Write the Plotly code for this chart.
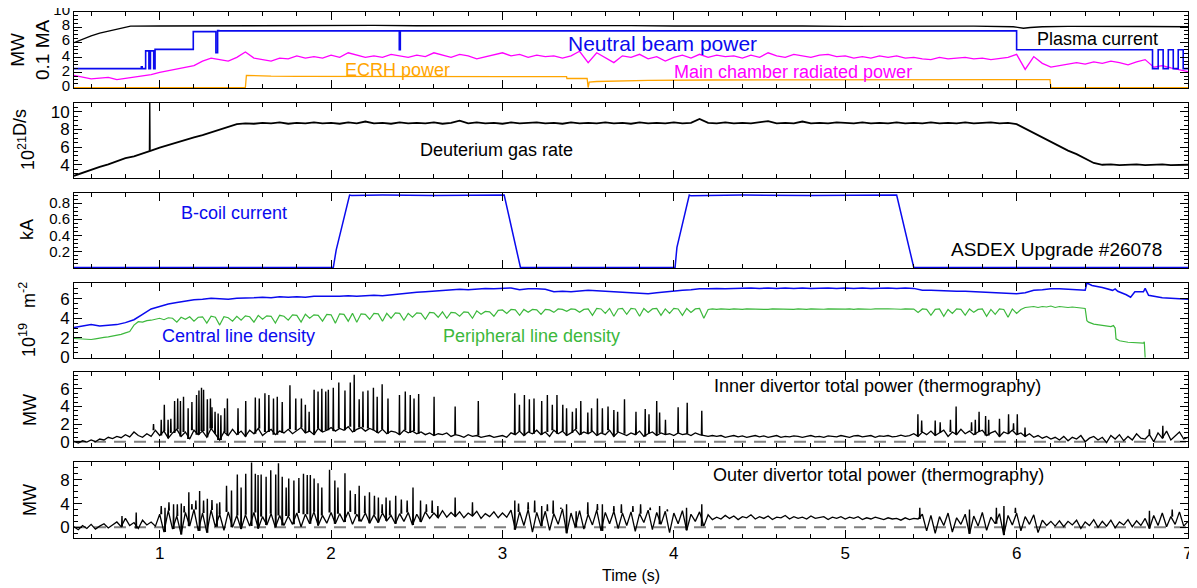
import numpy as np
import plotly.graph_objects as go

# ======================= DATA =======================
# ---- Panel 1: plasma current (0.1 MA), NBI power, ECRH power, radiated power (MW)
ip_t = [0.50, 0.55, 0.60, 0.65, 0.70, 0.75, 0.80, 0.83,
        1.00, 1.25, 1.50, 1.75, 2.00, 2.25, 2.50, 2.75, 3.00, 3.25,
        3.50, 3.75, 4.00, 4.25, 4.50, 4.75, 5.00, 5.25, 5.50, 5.75,
        5.98, 6.04, 6.08, 6.15, 6.30, 6.50, 6.75, 7.00]
ip_v = [5.95, 6.45, 6.85, 7.2, 7.45, 7.7, 7.95, 8.12,
        8.15, 8.18, 8.2, 8.22, 8.2, 8.22, 8.18, 8.2, 8.22, 8.2,
        8.18, 8.2, 8.15, 8.17, 8.12, 8.15, 8.1, 8.12, 8.1, 8.12,
        8.05, 7.85, 7.95, 8.05, 8.1, 8.05, 8.08, 8.05]

nbi_t = [0.50, 0.893, 0.898, 0.918, 0.937, 0.946, 0.965, 0.973, 1.196, 1.328,
         1.338, 1.345, 2.398, 2.404, 6.000, 6.793, 6.826, 6.855, 6.885, 6.914,
         6.943, 6.972, 7.0]
nbi_v = [2.5, 2.75, 2.5, 4.85, 2.5, 4.85, 2.5, 5.05, 7.4, 4.6,
         7.55, 7.5, 5.0, 7.5, 5.0, 2.5, 5.0, 2.5, 5.0, 2.5,
         5.0, 2.5, 2.5]

ecrh_t = [0.50, 1.500, 1.506, 1.55, 1.65, 1.80, 2.50, 3.374, 3.376, 3.494, 3.500,
          3.506, 3.55, 3.65, 3.85, 4.20, 4.70, 5.50, 6.195, 6.200, 7.00]
ecrh_v = [0.0, 0.0, 1.62, 1.56, 1.5, 1.48, 1.47, 1.45, 1.2, 1.2, 0.0,
          0.72, 0.8, 0.88, 0.95, 1.0, 1.03, 1.05, 1.05, 0.0, 0.0]

prad_t0, prad_dt = 0.50, 0.05
prad_v = [1.6, 1.35, 1.15, 1.25, 1.35, 1.05, 1.2, 1.3, 1.5, 1.7,
          2.0, 2.25, 2.4, 2.65, 2.9, 3.5, 3.9, 3.7, 3.5, 4.0,
          4.7, 3.9, 3.7, 3.5, 3.9, 3.8, 4.2, 3.9, 4.1, 3.9,
          4.3, 4.0, 4.6, 4.3, 4.0, 4.2, 4.0, 4.4, 4.2, 4.0,
          4.3, 4.1, 4.6, 4.3, 4.0, 4.4, 4.2, 3.8, 4.1, 4.3,
          4.6, 4.2, 4.4, 4.0, 4.3, 4.1, 4.2, 3.9, 4.2, 4.8,
          3.3, 4.6, 3.9, 3.3, 4.2, 4.0, 4.4, 3.8, 4.1, 3.5,
          4.0, 4.3, 3.9, 4.4, 4.0, 4.3, 4.1, 4.2, 3.9, 4.3,
          4.0, 4.6, 4.2, 4.0, 4.4, 4.2, 4.0, 4.3, 4.4, 4.1,
          4.2, 3.9, 4.1, 3.9, 4.2, 4.0, 4.2, 3.9, 4.0, 3.8,
          3.7, 4.0, 3.8, 3.9, 4.0, 3.8, 3.9, 3.7, 3.9, 4.0,
          4.4, 2.4, 4.1, 3.2, 2.7, 2.9, 3.0, 3.3, 3.1, 3.4,
          3.2, 3.5, 3.3, 3.0, 3.4, 3.7, 2.7, 2.9, 2.6, 2.3,
          2.1]

# ---- Panel 2: deuterium gas rate (1e21 D/s)
gas_t0, gas_dt = 0.50, 0.05
gas_v = [2.75, 3.1, 3.4, 3.75, 4.05, 4.4, 4.75, 4.95, 5.25, 5.6,
         5.95, 6.25, 6.5, 6.8, 7.1, 7.35, 7.65, 7.95, 8.25, 8.6,
         8.7, 8.65, 8.75, 8.7, 8.8, 8.65, 8.75, 8.7, 8.8, 8.7,
         8.75, 8.65, 8.8, 8.7, 8.9, 8.7, 8.75, 8.65, 8.8, 8.7,
         8.75, 8.7, 8.8, 8.65, 8.75, 9.0, 8.7, 8.8, 8.7, 8.75,
         8.65, 8.8, 8.7, 8.75, 8.8, 8.7, 8.75, 8.65, 8.8, 8.7,
         8.75, 8.7, 8.8, 8.7, 8.75, 8.65, 8.8, 8.7, 8.75, 8.7,
         8.8, 8.7, 8.75, 9.2, 8.75, 8.7, 8.8, 8.7, 8.75, 8.7,
         8.8, 8.95, 8.7, 8.75, 8.7, 8.9, 8.7, 8.75, 8.7, 8.8,
         8.75, 8.7, 8.8, 8.7, 8.75, 8.7, 8.8, 8.7, 8.75, 8.7,
         8.8, 8.7, 8.75, 8.7, 8.8, 8.7, 8.75, 8.8, 8.7, 8.75,
         8.6, 8.1, 7.6, 7.1, 6.6, 6.1, 5.6, 5.2, 4.7, 4.2,
         4.0, 4.05, 3.95, 4.0, 4.05, 3.95, 4.0, 4.05, 3.95, 4.0,
         4.0]
gas_spike_t = [0.942]
gas_spike_h = [12.0]

# ---- Panel 3: B-coil current (kA)
bcoil_t = [0.50, 2.013, 2.030, 2.045, 2.070, 2.108, 2.120, 2.30, 2.60, 2.90, 3.010, 3.105,
           4.007, 4.018, 4.040, 4.090, 4.100, 4.40, 4.80, 5.10, 5.300, 5.400, 7.00]
bcoil_v = [0.0, 0.0, 0.22, 0.35, 0.55, 0.90, 0.895, 0.90, 0.895, 0.90, 0.90, 0.0,
           0.0, 0.25, 0.45, 0.90, 0.89, 0.90, 0.895, 0.90, 0.90, 0.0, 0.0]

# ---- Panel 4: line densities (1e19 m^-2)
core_t0, core_dt = 0.50, 0.05
core_v = [3.05, 3.2, 3.35, 3.2, 3.25, 3.35, 3.55, 3.85, 4.4, 4.95,
          5.2, 5.45, 5.6, 5.75, 5.9, 5.95, 6.05, 6.0, 5.95, 6.05,
          6.05, 6.1, 6.15, 6.1, 6.2, 6.15, 6.2, 6.15, 6.25, 6.25,
          6.2, 6.25, 6.3, 6.25, 6.3, 6.35, 6.3, 6.4, 6.45, 6.55,
          6.65, 6.7, 6.75, 6.85, 6.9, 6.95, 6.9, 7.0, 7.05, 7.0,
          7.05, 7.1, 6.9, 7.0, 7.0, 6.95, 6.7, 6.75, 6.7, 6.8,
          6.85, 6.8, 6.75, 6.7, 6.65, 6.6, 6.55, 6.5, 6.6, 6.7,
          6.8, 6.85, 6.9, 7.0, 7.0, 7.05, 7.0, 7.05, 7.05, 7.1,
          7.05, 7.1, 7.05, 7.1, 7.05, 7.1, 7.05, 7.1, 7.1, 7.05,
          7.1, 7.05, 7.1, 7.05, 7.1, 7.1, 7.05, 7.1, 7.05, 6.85,
          6.85, 6.8, 6.8, 6.75, 6.75, 6.7, 6.7, 6.65, 6.6, 6.55,
          6.5, 6.6, 6.85, 6.9, 7.0, 7.0, 6.95, 6.9]
core_tail_t = [6.40, 6.41, 6.44, 6.50, 6.56, 6.575, 6.59, 6.64, 6.665, 6.69,
               6.74, 6.75, 6.77, 6.85, 6.95, 7.0]
core_tail_v = [6.85, 7.6, 7.35, 7.15, 6.85, 7.0, 6.75, 6.4, 6.15, 6.7,
               6.7, 7.05, 6.35, 6.1, 6.0, 5.95]

edge_t0, edge_dt = 0.50, 0.025
edge_v = [1.93, 1.9, 1.88, 1.85, 1.83, 1.9, 2.0, 2.05, 2.1, 2.18,
          2.25, 2.35, 2.5, 2.65, 3.3, 3.65, 3.6, 3.75, 3.8, 3.9,
          4.0, 3.85, 4.05, 4.0, 3.6, 4.1, 3.9, 4.15, 3.7, 4.1,
          4.15, 3.5, 4.2, 4.1, 3.3, 4.15, 4.05, 3.7, 4.2, 3.8,
          4.25, 4.15, 3.6, 4.3, 3.9, 4.25, 4.2, 3.5, 4.3, 4.2,
          3.8, 4.35, 4.3, 3.6, 4.4, 4.0, 4.35, 4.3, 3.7, 4.4,
          4.35, 3.5, 4.45, 4.4, 3.7, 4.5, 3.6, 4.45, 4.4, 3.9,
          4.5, 4.45, 3.7, 4.5, 4.0, 4.55, 4.5, 3.8, 4.5, 4.1,
          4.55, 4.5, 3.9, 4.6, 4.55, 4.1, 4.65, 4.0, 4.6, 4.55,
          4.2, 4.65, 4.6, 4.0, 4.75, 4.4, 4.7, 4.65, 4.2, 4.8,
          4.85, 4.5, 4.9, 4.85, 4.3, 4.9, 4.6, 4.9, 4.85, 4.4,
          4.9, 4.85, 4.6, 4.95, 4.9, 4.7, 4.95, 4.9, 4.6, 4.9,
          4.95, 4.3, 5.0, 4.95, 4.5, 5.0, 4.2, 4.95, 5.0, 4.4,
          5.0, 4.95, 4.2, 5.0, 4.6, 4.95, 5.0, 4.3, 4.95, 4.5,
          5.0, 4.95, 4.3, 5.0, 4.6, 4.95, 5.0, 4.0, 4.9, 4.95,
          4.9, 4.95, 4.92, 4.9, 4.95, 4.92, 4.9, 4.95, 4.93, 4.9,
          4.95, 4.92, 4.9, 4.95, 4.93, 4.9, 4.95, 4.92, 4.9, 4.95,
          4.92, 4.9, 4.95, 4.93, 4.97, 4.92, 4.95, 4.93, 4.9, 4.95,
          4.93, 4.95, 4.9, 4.95, 4.93, 4.97, 4.92, 4.95, 4.93, 4.95,
          4.97, 4.93, 4.95, 4.92, 4.95, 4.97, 4.93, 4.6, 4.95, 4.9,
          4.3, 4.9, 4.95, 4.2, 4.9, 4.5, 4.95, 4.9, 4.3, 4.95,
          4.6, 4.9, 4.95, 4.2, 4.9, 4.4, 4.95, 4.9, 4.1, 4.95,
          4.5, 4.9, 5.1, 5.15, 5.2, 5.1, 5.2, 5.15, 5.25, 5.1,
          5.2, 5.15, 5.1, 5.15, 5.1, 5.05, 5.0]
edge_tail_t = [6.41, 6.42, 6.45, 6.50, 6.52, 6.55, 6.565, 6.575, 6.58, 6.60,
               6.65, 6.70, 6.74, 6.745, 6.75]
edge_tail_v = [3.75, 3.6, 3.4, 3.3, 3.2, 3.15, 3.25, 3.0, 1.9, 1.7,
               1.55, 1.5, 1.45, 1.6, 0.0]

# ---- Panel 5: inner divertor power (MW): baseline + ELM peaks
inner_t0, inner_dt = 0.50, 0.025
inner_v = [0.05, -0.15, 0.1, -0.05, 0.2, 0.0, 0.3, 0.2, 0.5, 0.35,
           0.6, 0.45, 0.8, 0.55, 1.1, 0.7, 0.5, 0.9, 0.6, 1.3,
           0.7, 1.2, 0.4, 1.0, 1.4, 0.6, 1.1, 0.3, 1.3, 0.8,
           1.2, 0.5, 1.5, 0.9, 0.2, 1.1, 0.7, 1.4, 0.8, 1.2,
           0.6, 1.3, 0.9, 1.5, 0.7, 1.1, 1.4, 0.8, 1.2, 1.0,
           1.4, 0.9, 1.3, 1.6, 1.0, 1.2, 0.8, 1.5, 1.1, 1.3,
           1.6, 1.2, 1.5, 1.3, 1.7, 1.1, 1.4, 1.6, 1.2, 1.5,
           1.3, 1.0, 1.4, 0.9, 1.2, 1.1, 0.8, 1.3, 1.0, 1.2,
           0.9, 1.1, 0.8, 1.0, 0.7, 0.9, 0.8, 1.0, 0.6, 0.8,
           0.7, 0.5, 0.8, 0.6, 0.7, 0.5, 0.6, 0.7, 0.5, 0.6,
           0.7, 0.5, 1.0, 0.8, 1.2, 0.7, 1.1, 0.9, 1.3, 0.8,
           1.1, 0.6, 1.3, 0.9, 1.2, 0.7, 1.0, 1.4, 0.8, 1.1,
           0.9, 1.2, 0.7, 1.0, 0.8, 1.3, 0.6, 1.1, 0.9, 0.7,
           1.0, 0.8, 1.2, 0.6, 0.9, 1.1, 0.7, 1.0, 0.8, 0.9,
           0.7, 1.0, 0.8, 0.9, 0.7, 1.0, 0.8, 0.7, 0.6, 0.7,
           0.6, 0.7, 0.5, 0.6, 0.7, 0.55, 0.65, 0.5, 0.6, 0.7,
           0.55, 0.65, 0.5, 0.6, 0.7, 0.5, 0.6, 0.55, 0.65, 0.6,
           0.5, 0.6, 0.7, 0.55, 0.6, 0.5, 0.65, 0.6, 0.55, 0.7,
           0.6, 0.5, 0.65, 0.7, 0.55, 0.6, 0.7, 0.5, 0.65, 0.6,
           0.7, 0.55, 0.6, 0.75, 0.6, 0.7, 0.9, 0.6, 1.1, 0.8,
           1.2, 0.7, 1.0, 1.3, 0.6, 1.1, 0.8, 1.4, 0.9, 1.2,
           0.8, 1.1, 1.3, 0.7, 1.0, 1.2, 0.6, 1.1, 0.9, 1.3,
           0.8, 1.0, 0.6, 0.9, 0.5, 0.7, 0.4, 0.6, 0.3, 0.5,
           0.2, 0.6, 0.1, 0.5, 0.3, 0.7, 0.0, 0.4, 0.6, 0.2,
           0.5, -0.1, 0.7, 0.3, 0.8, 0.1, 0.6, 0.2, 0.9, 0.4,
           0.3, 0.8, 0.0, 1.0, 0.4, 1.2, 0.2, 0.7, 1.1, 0.3,
           0.5]
inner_elm_t = [0.964, 1.009, 1.027, 1.049, 1.065, 1.087, 1.105, 1.121, 1.139, 1.166,
               1.188, 1.215, 1.229, 1.244, 1.256, 1.278, 1.296, 1.305, 1.323, 1.341,
               1.357, 1.379, 1.395, 1.457, 1.502, 1.558, 1.581, 1.614, 1.637, 1.664,
               1.686, 1.715, 1.760, 1.794, 1.827, 1.850, 1.872, 1.901, 1.924, 1.946,
               1.969, 1.984, 2.013, 2.045, 2.081, 2.112, 2.135, 2.164, 2.186, 2.215,
               2.247, 2.269, 2.298, 2.332, 2.399, 2.433, 2.462, 2.484, 2.511, 2.601,
               2.724, 2.859, 3.072, 3.099, 3.128, 3.157, 3.184, 3.229, 3.262, 3.291,
               3.318, 3.352, 3.374, 3.408, 3.430, 3.457, 3.498, 3.520, 3.554, 3.583,
               3.616, 3.650, 3.672, 3.712, 3.779, 3.833, 3.855, 3.900, 3.917, 3.951,
               4.025, 4.078, 4.163, 5.424, 5.446, 5.525, 5.554, 5.614, 5.647, 5.737,
               5.759, 5.781, 5.819, 5.837, 5.900, 5.953, 5.982, 6.004, 6.049, 6.775,
               6.853]
inner_elm_h = [2.0, 2.5, 4.2, 2.5, 2.6, 4.6, 4.9, 4.6, 5.1, 3.8,
               4.5, 5.3, 5.8, 6.1, 5.9, 4.8, 4.9, 3.9, 3.4, 3.2,
               3.0, 3.8, 4.9, 3.8, 4.6, 5.0, 4.9, 5.5, 5.3, 4.9,
               5.1, 4.5, 6.4, 4.9, 4.9, 4.2, 3.4, 5.9, 5.7, 6.0,
               5.7, 5.9, 6.1, 6.7, 5.8, 6.7, 7.6, 4.8, 5.7, 5.8,
               6.1, 5.1, 6.5, 4.9, 5.3, 5.7, 5.3, 4.9, 5.4, 5.1,
               4.0, 4.6, 5.5, 4.2, 5.3, 4.8, 4.9, 4.6, 5.3, 4.2,
               5.3, 4.2, 3.8, 3.4, 3.8, 4.6, 3.3, 3.8, 4.9, 3.8,
               4.0, 3.6, 3.4, 4.8, 3.4, 3.7, 3.1, 4.6, 3.3, 2.5,
               3.9, 4.4, 3.5, 3.1, 2.4, 2.4, 2.2, 2.5, 4.0, 2.2,
               2.5, 3.4, 2.9, 2.5, 2.6, 3.1, 2.1, 3.1, 1.6, 1.4,
               1.8]

# ---- Panel 6: outer divertor power (MW): baseline + ELM peaks
outer_t0, outer_dt = 0.50, 0.025
outer_v = [0.1, -0.4, 0.3, -0.2, 0.5, -0.3, 0.2, 0.6, -0.1, 0.4,
           0.9, 0.1, 1.5, 0.3, 0.8, -0.2, 1.2, 0.4, 0.9, 0.2,
           2.2, -0.8, 2.8, -0.3, 1.9, -1.2, 2.5, 0.2, 3.0, -0.6,
           2.4, -0.9, 2.9, 0.1, 2.2, -0.5, 2.6, 0.0, 2.0, -0.3,
           2.1, 0.2, 2.5, -0.2, 1.8, 0.4, 2.3, 0.0, 2.0, 0.3,
           1.9, 0.5, 2.4, 0.1, 2.2, 0.6, 2.6, 0.3, 2.0, 0.7,
           2.5, 0.6, 2.3, 0.9, 2.6, 0.5, 2.2, 1.0, 2.4, 0.7,
           2.1, 0.8, 2.4, 1.1, 2.0, 0.6, 2.3, 1.0, 2.5, 0.4,
           2.2, 0.9, 2.6, 1.5, 2.4, 1.6, 2.8, 1.7, 2.5, 1.8,
           2.6, 1.6, 2.4, 1.9, 2.7, 1.5, 2.3, 1.8, 2.6, 1.6,
           2.4, 1.7, 2.9, -0.4, 2.6, 0.3, 3.0, -0.8, 2.5, 0.2,
           2.7, -0.5, 2.3, 0.5, 3.1, -1.0, 2.4, 0.0, 2.8, -0.3,
           2.2, 0.4, 2.9, -0.6, 2.5, 0.6, 2.7, -0.2, 2.4, 0.3,
           2.6, -0.7, 2.3, 0.8, 2.9, -0.4, 2.5, 0.5, 2.7, -0.9,
           2.4, 0.6, 2.8, -0.5, 2.2, 1.0, 2.6, 0.2, 2.1, 1.3,
           1.7, 1.4, 2.0, 1.5, 1.9, 1.3, 1.8, 1.6, 2.1, 1.4,
           1.8, 1.5, 1.9, 1.3, 1.7, 1.6, 2.0, 1.4, 1.8, 1.5,
           1.7, 1.4, 1.9, 1.5, 1.6, 1.8, 1.3, 1.7, 1.5, 1.8,
           1.4, 1.7, 1.5, 1.8, 1.3, 1.6, 1.4, 1.7, 1.5, 1.3,
           1.6, 1.4, 1.5, 1.2, 1.6, 1.3, 1.5, 1.4, 2.2, -0.6,
           2.0, -1.0, 1.8, 0.3, 2.4, -0.8, 1.6, 0.5, 2.2, -1.1,
           1.9, 0.2, 2.5, -0.5, 1.7, 0.6, 2.3, -1.3, 2.0, 0.4,
           2.4, -0.6, 1.8, 0.5, 2.1, -0.9, 1.2, 0.3, 1.0, 0.2,
           1.1, 0.1, 1.0, 0.4, 1.2, -0.2, 0.9, 0.3, 1.3, 0.0,
           1.0, 0.2, 1.2, -0.1, 0.9, 0.4, 1.3, 0.1, 1.1, 0.3,
           1.5, -0.2, 2.0, 0.3, 2.4, 0.1, 1.8, 0.5, 2.6, 0.2,
           1.0]
outer_elm_t = [0.780, 0.863, 1.009, 1.031, 1.054, 1.081, 1.103, 1.126, 1.143, 1.170,
               1.188, 1.211, 1.233, 1.256, 1.278, 1.305, 1.334, 1.350, 1.390, 1.419,
               1.453, 1.475, 1.502, 1.536, 1.558, 1.574, 1.592, 1.621, 1.648, 1.677,
               1.693, 1.715, 1.738, 1.753, 1.783, 1.812, 1.839, 1.861, 1.879, 1.901,
               1.924, 1.946, 1.991, 2.022, 2.040, 2.081, 2.112, 2.141, 2.164, 2.197,
               2.224, 2.253, 2.276, 2.298, 2.321, 2.343, 2.377, 2.410, 2.444, 2.478,
               2.522, 2.556, 2.590, 2.623, 2.724, 2.825, 3.072, 3.094, 3.150, 3.188,
               3.229, 3.262, 3.296, 3.341, 3.374, 3.430, 3.498, 3.554, 3.583, 3.650,
               3.694, 3.761, 3.806, 3.862, 3.917, 3.962, 4.074, 4.163, 5.435, 5.725,
               5.882, 5.926, 5.993, 6.775, 6.908]
outer_elm_h = [1.9, 2.5, 3.6, 3.3, 4.2, 3.9, 3.9, 4.0, 3.6, 5.9,
               3.9, 4.5, 6.1, 4.5, 4.8, 4.6, 4.0, 4.2, 7.0, 6.2,
               8.9, 6.7, 9.0, 10.9, 9.0, 8.8, 8.9, 8.5, 9.6, 8.9,
               10.8, 8.5, 6.7, 8.2, 7.9, 8.3, 9.0, 8.8, 8.8, 8.2,
               7.4, 6.7, 9.7, 7.9, 6.7, 9.1, 6.2, 5.6, 7.0, 5.3,
               5.9, 5.3, 5.0, 3.9, 5.0, 4.5, 5.3, 4.7, 4.5, 6.7,
               4.5, 3.9, 4.5, 3.6, 5.0, 4.2, 4.5, 4.0, 4.2, 4.5,
               3.6, 3.9, 4.5, 3.3, 3.9, 2.7, 4.2, 3.9, 3.9, 3.6,
               3.9, 3.6, 3.9, 3.3, 3.6, 3.0, 3.3, 3.9, 3.3, 3.0,
               3.3, 3.6, 3.3, 2.8, 3.0]

# ======================= STYLE / LAYOUT =======================
FONT = "Liberation Sans, Arial, Helvetica, sans-serif"
BLUE = "#0a0aee"
MAGENTA = "#ff00ff"
ORANGE = "#ffa500"
GREEN = "#3cb83c"
OFF = 8                      # default page (body) margin of the html page
W, H = 1197 - OFF, 588 - OFF
# plot-area edges in page pixels
P_LEFT, P_RIGHT, P_TOP, P_BOT = 74, 1188, 12, 538
ML, MR, MT, MB = P_LEFT - OFF, W - (P_RIGHT - OFF), P_TOP - OFF, H - (P_BOT - OFF)
PW, PH = W - ML - MR, H - MT - MB
PANEL_PX = [(12, 88), (103, 178), (193, 268), (283, 358), (372, 447), (462, 538)]


def grid(t0, dt, vals):
    return list(np.round(t0 + dt * np.arange(len(vals)), 4))


def spikes(sp_t, sp_h, t0, dt, base):
    xs, ys = [], []
    for t, h in zip(sp_t, sp_h):
        i = int(round((t - t0) / dt))
        i = min(max(i, 0), len(base) - 1)
        b = base[i]
        xs += [t - 0.002, t, t + 0.002, None]
        ys += [b, h, b, None]
    return xs, ys


fig = go.Figure()


def add(i, x, y, color, width=1.2, shape="linear"):
    fig.add_trace(go.Scatter(x=x, y=y, mode="lines", xaxis=f"x{i}", yaxis=f"y{i}",
                             line=dict(color=color, width=width, shape=shape),
                             showlegend=False, hoverinfo="skip"))


# Panel 1
add(1, ecrh_t, ecrh_v, ORANGE, 1.3)
add(1, grid(prad_t0, prad_dt, prad_v), prad_v, MAGENTA, 1.3)
add(1, nbi_t, nbi_v, BLUE, 1.6, "hv")
add(1, ip_t, ip_v, "black", 1.3)
# Panel 2
add(2, grid(gas_t0, gas_dt, gas_v), gas_v, "black", 1.8)
gx, gy = spikes(gas_spike_t, gas_spike_h, gas_t0, gas_dt, gas_v)
add(2, gx, gy, "black", 1.3)
# Panel 3
add(3, bcoil_t, bcoil_v, BLUE, 1.5)
# Panel 4
add(4, grid(core_t0, core_dt, core_v) + core_tail_t, core_v + core_tail_v, BLUE, 1.5)
add(4, grid(edge_t0, edge_dt, edge_v) + edge_tail_t, edge_v + edge_tail_v, GREEN, 1.2)
# Panel 5
add(5, grid(inner_t0, inner_dt, inner_v), inner_v, "black", 1.3)
sx, sy = spikes(inner_elm_t, inner_elm_h, inner_t0, inner_dt, inner_v)
add(5, sx, sy, "black", 1.4)
# Panel 6
add(6, grid(outer_t0, outer_dt, outer_v), outer_v, "black", 1.3)
sx, sy = spikes(outer_elm_t, outer_elm_h, outer_t0, outer_dt, outer_v)
add(6, sx, sy, "black", 1.4)

yspec = {
    1: dict(range=[-0.06, 10.001], dtick=2, tick0=0, minor=0.5, fs=15, shift=-2),
    2: dict(range=[2.5, 11.0], dtick=2, tick0=0, minor=0.5, fs=17, shift=0),
    3: dict(range=[-0.006, 0.925], tickvals=[0.2, 0.4, 0.6, 0.8], minor=0.05, fs=15, shift=0),
    4: dict(range=[-0.06, 7.6], dtick=2, tick0=0, minor=0.5, fs=17, shift=0),
    5: dict(range=[-0.6, 7.9], dtick=2, tick0=0, minor=0.5, fs=17, shift=0),
    6: dict(range=[-1.8, 11.0], dtick=4, tick0=0, minor=1, fs=17, shift=0),
}

common = dict(showline=True, linecolor="black", linewidth=1, mirror="allticks",
              ticks="inside", ticklen=8, tickwidth=1, tickcolor="black",
              showgrid=False, zeroline=False, automargin=False,
              ticklabeloverflow="allow")

layout = dict(width=W, height=H, margin=dict(l=ML, r=MR, t=MT, b=MB, autoexpand=False),
              paper_bgcolor="white", plot_bgcolor="white",
              font=dict(family=FONT, size=17, color="black"), showlegend=False)

for i in range(1, 7):
    top, bot = PANEL_PX[i - 1]
    dom = [(P_BOT - bot) / PH, (P_BOT - top) / PH]
    xa = dict(common, range=[0.5, 7.0], dtick=1, tick0=0, domain=[0, 1], anchor=f"y{i}",
              showticklabels=(i == 6), tickfont=dict(family=FONT, size=17, color="black"),
              minor=dict(dtick=0.2, tick0=0, ticklen=4, ticks="inside", tickcolor="black"))
    s = yspec[i]
    ya = dict(common, range=s["range"], domain=dom, anchor=f"x{i}",
              tickfont=dict(family=FONT, size=s["fs"], color="black"),
              ticklabelshift=s["shift"],
              minor=dict(dtick=s["minor"], tick0=0, ticklen=4, ticks="inside", tickcolor="black"))
    if "tickvals" in s:
        ya["tickmode"] = "array"
        ya["tickvals"] = s["tickvals"]
    else:
        ya["dtick"] = s["dtick"]
        ya["tick0"] = s["tick0"]
    layout["xaxis" if i == 1 else f"xaxis{i}"] = xa
    layout["yaxis" if i == 1 else f"yaxis{i}"] = ya

fig.update_layout(**layout)


def ann(text, px, py, color="black", size=18, angle=0):
    # px, py are page-pixel positions (centre of the text)
    return dict(text=text, x=(px - P_LEFT) / PW, y=(P_BOT - py) / PH, xref="paper", yref="paper",
                showarrow=False, textangle=angle, xanchor="center", yanchor="middle",
                font=dict(family=FONT, size=size, color=color))


annotations = [
    ann("Neutral beam power", 662, 43, BLUE, 21),
    ann("Plasma current", 1097, 39, "black", 18),
    ann("ECRH power", 397, 70, ORANGE, 18),
    ann("Main chamber radiated power", 793, 72, MAGENTA, 18),
    ann("Deuterium gas rate", 496, 150, "black", 18),
    ann("B-coil current", 234, 213, BLUE, 18),
    ann("ASDEX Upgrade #26078", 1056, 249, "black", 19),
    ann("Central line density", 238, 336, BLUE, 18),
    ann("Peripheral line density", 531, 336, GREEN, 18),
    ann("Inner divertor total power (thermography)", 877, 386, "black", 18),
    ann("Outer divertor total power (thermography)", 878, 475, "black", 18),
    ann("Time (s)", 631, 575, "black", 16),
    # y-axis titles
    ann("MW<br>0.1 MA", 30, 50, "black", 19, -90),
    ann("10<sup>21</sup><sup><span style='font-size:18px'>D/s</span></sup>", 24, 140, "black", 18, -90),
    ann("kA", 27, 230, "black", 18, -90),
    ann("10<sup>19</sup>   m<sup>-2</sup>", 27, 320, "black", 18, -90),
    ann("MW", 30, 410, "black", 18, -90),
    ann("MW", 30, 500, "black", 18, -90),
]

shapes = []
for i in (5, 6):
    shapes.append(dict(type="line", xref=f"x{i} domain", yref=f"y{i}", x0=0, x1=1, y0=0, y1=0,
                       line=dict(color="#808080", width=2, dash="12px,8px"), layer="below"))

fig.update_layout(annotations=annotations, shapes=shapes)
fig.write_html("out.html")
